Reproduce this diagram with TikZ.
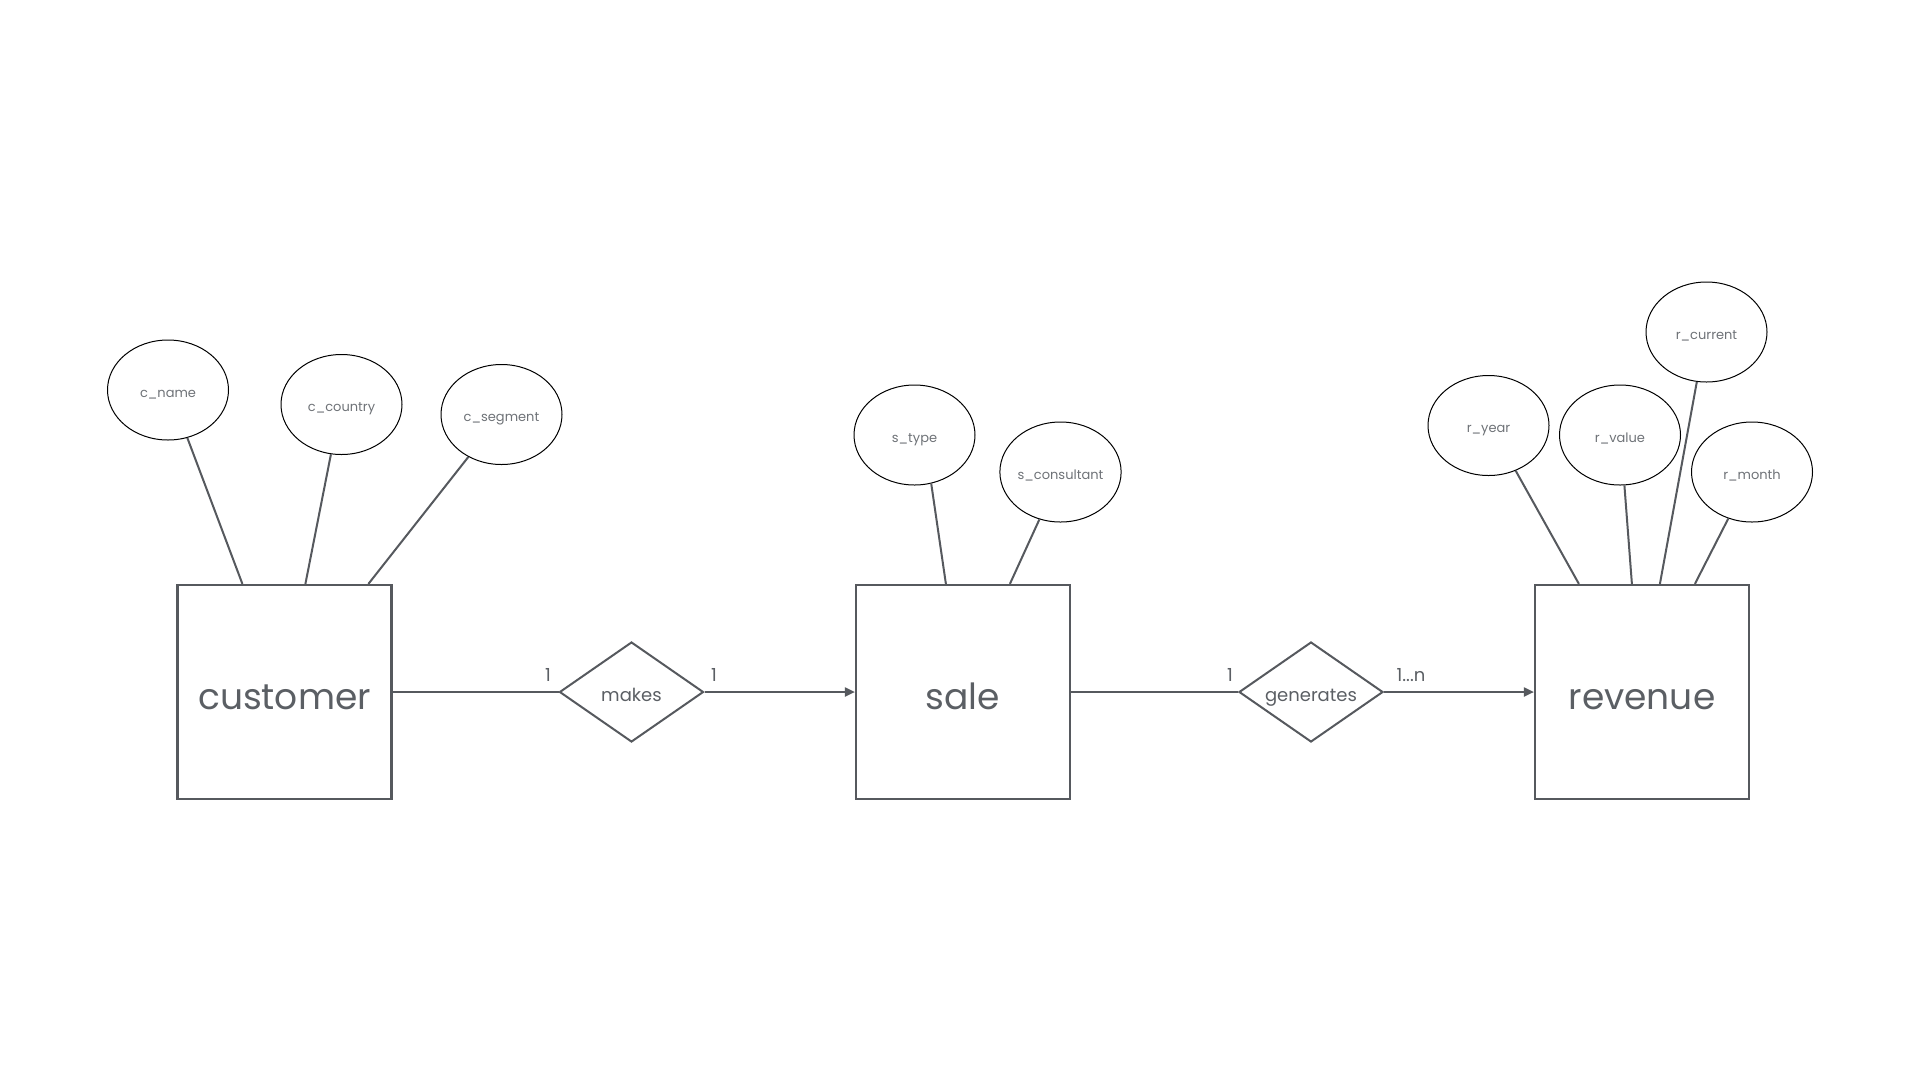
\documentclass[tikz,border=0pt]{standalone}
\usepackage{fontspec}
\setmainfont{Poppins}
\usetikzlibrary{shapes.geometric,arrows.meta,calc}

\definecolor{edgegray}{HTML}{56595E}
\definecolor{textgray}{HTML}{5B5F64}
\definecolor{attrgray}{HTML}{6E7277}

\tikzset{
  entity/.style={draw=edgegray, line width=2.2pt, minimum width=214pt, minimum height=214pt,
    inner sep=0pt, text height=34pt, text depth=0pt, text=textgray, font=\fontsize{36}{40}\selectfont},
  attr/.style={ellipse, draw=black, line width=1pt, minimum width=121pt, minimum height=100pt,
    inner sep=0pt, text height=14pt, text depth=0pt, text=attrgray, font=\fontsize{13}{15}\selectfont},
  rel/.style={diamond, aspect=1.44, draw=edgegray, line width=2pt, minimum width=144pt, minimum height=100pt,
    inner sep=0pt, text height=18pt, text depth=0pt, text=textgray, font=\fontsize{18}{20}\selectfont},
  link/.style={edgegray, line width=2pt},
  card/.style={text=textgray, font=\fontsize{18}{20}\selectfont, inner sep=0pt}
}

\begin{document}
\begin{tikzpicture}[x=1pt, y=-1pt]
\useasboundingbox (0,0) rectangle (1920,1080);

% Entities
\node[entity] (cust) at (284.5,692) {customer};
\node[entity] (sale) at (963,692) {sale};
\node[entity] (rev) at (1642,692) {revenue};

% Relationships
\node[rel] (mk) at (631.5,692) {makes};
\node[rel] (gen) at (1311,692) {generates};

% Attributes of customer
\node[attr] (cname) at (168,390) {c\_name};
\node[attr] (ccountry) at (341.5,404.5) {c\_country};
\node[attr] (csegment) at (501.5,414.5) {c\_segment};

% Attributes of sale
\node[attr] (stype) at (914.5,435) {s\_type};
\node[attr] (scons) at (1060.5,472) {s\_consultant};

% Attributes of revenue
\node[attr] (ryear) at (1488.5,425.5) {r\_year};
\node[attr] (rvalue) at (1620,435) {r\_value};
\node[attr] (rcurrent) at (1706.5,332) {r\_current};
\node[attr] (rmonth) at (1752,472) {r\_month};

% Attribute links
\foreach \a/\d/\e in {cname/66/-68, ccountry/129/-102, csegment/192/-128}
  \draw[link] ($(cust.north west)+(\d,0)$) -- (\a.\e);
\foreach \a/\d/\e in {stype/91/-71, scons/155/-114}
  \draw[link] ($(sale.north west)+(\d,0)$) -- (\a.\e);
\foreach \a/\d/\e in {ryear/45/-59, rvalue/98/-85, rcurrent/126/-101, rmonth/161/-117}
  \draw[link] ($(rev.north west)+(\d,0)$) -- (\a.\e);

% Relationship links
\draw[link] (cust) -- (mk);
\draw[link, -{Triangle[length=10pt, width=9pt]}] (mk) -- (sale);
\draw[link] (sale) -- (gen);
\draw[link, -{Triangle[length=10pt, width=9pt]}] (gen) -- (rev);

% Cardinalities
\node[card] (c1) at (548,675) {1};
\node[card] (c2) at (714,675) {1};
\node[card] (c3) at (1230,675) {1};
\node[card] (c4) at (1411,675) {1...n};

\end{tikzpicture}
\end{document}
